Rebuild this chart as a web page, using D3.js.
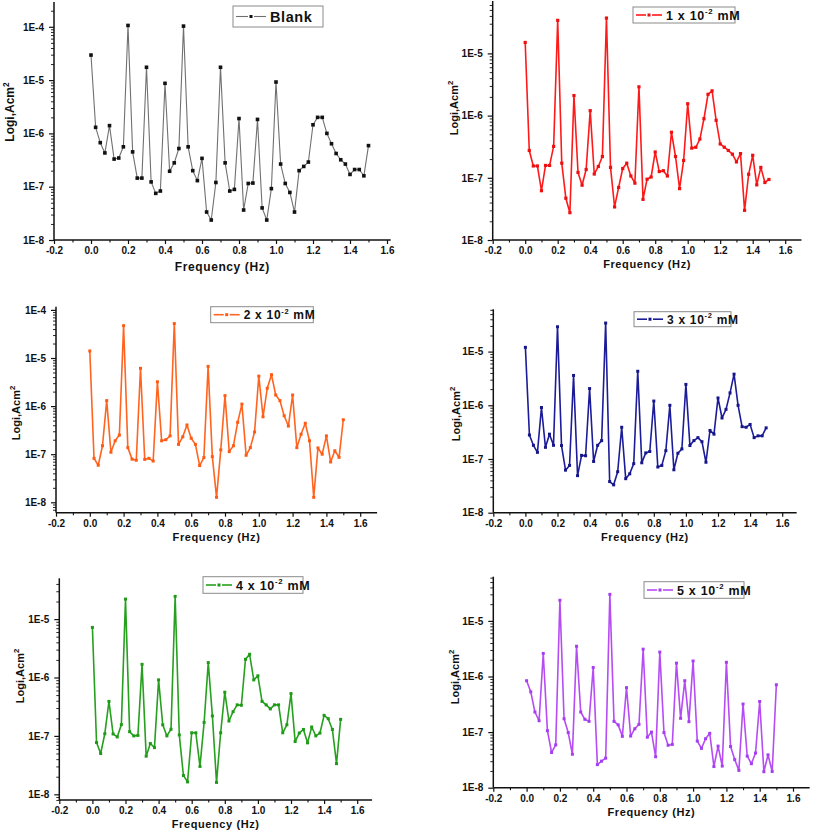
<!DOCTYPE html>
<html><head><meta charset="utf-8">
<script src="https://cdn.jsdelivr.net/npm/d3@7"></script>
<style>
body{margin:0;background:#fff;}
svg{display:block;font-family:"Liberation Sans",Arial,sans-serif;font-weight:bold;}
</style></head>
<body>
<svg id="c" width="813" height="835"></svg>
<script>
// ---------- DATA ----------
const freq = [0,0.025,0.05,0.075,0.1,0.125,0.15,0.175,0.2,0.225,0.25,0.275,0.3,0.325,0.35,0.375,0.4,0.425,0.45,0.475,0.5,0.525,0.55,0.575,0.6,0.625,0.65,0.675,0.7,0.725,0.75,0.775,0.8,0.825,0.85,0.875,0.9,0.925,0.95,0.975,1.0,1.025,1.05,1.075,1.1,1.125,1.15,1.175,1.2,1.225,1.25,1.275,1.3,1.325,1.35,1.375,1.4,1.425,1.45,1.475,1.5];

const blank = [2.95e-5,1.3e-6,6.7e-7,4.3e-7,1.4e-6,3.3e-7,3.45e-7,5.6e-7,1.06e-4,4.5e-7,1.45e-7,1.45e-7,1.74e-5,1.23e-7,7.5e-8,8.3e-8,8.7e-6,1.95e-7,2.8e-7,5.2e-7,1.03e-4,5.6e-7,2.0e-7,1.3e-7,3.4e-7,3.35e-8,2.37e-8,1.2e-7,1.74e-5,2.8e-7,8.3e-8,8.9e-8,1.9e-6,3.65e-8,1.15e-7,1.17e-7,1.83e-6,4.0e-8,2.37e-8,9.2e-8,9.2e-6,2.66e-7,1.15e-7,7.8e-8,3.35e-8,2.0e-7,2.4e-7,2.9e-7,1.45e-6,2.0e-6,2.0e-6,1.0e-6,6.4e-7,4.2e-7,3.2e-7,2.66e-7,1.7e-7,2.1e-7,2.1e-7,1.6e-7,5.9e-7];

const conc1 = [1.5e-5,2.75e-7,1.55e-7,1.55e-7,6.2e-8,1.58e-7,1.58e-7,3.2e-7,3.4e-5,1.72e-7,4.7e-8,2.75e-8,2.1e-6,1.22e-7,7.6e-8,1.36e-7,1.2e-6,1.15e-7,1.52e-7,2.2e-7,3.7e-5,1.47e-7,3.4e-8,7.0e-8,1.41e-7,1.72e-7,1.07e-7,8.2e-8,2.9e-6,4.5e-8,9.5e-8,1.03e-7,2.6e-7,1.26e-7,1.3e-7,1.07e-7,5.4e-7,2.2e-7,6.7e-8,1.9e-7,1.55e-6,3.0e-7,3.1e-7,4.2e-7,8.9e-7,2.2e-6,2.5e-6,8.4e-7,3.5e-7,3.1e-7,2.75e-7,2.4e-7,1.8e-7,2.45e-7,3.0e-8,1.14e-7,2.3e-7,7.7e-8,1.47e-7,8.4e-8,9.4e-8];

const conc2 = [1.4e-5,8.2e-8,5.9e-8,1.5e-7,1.3e-6,1.1e-7,1.9e-7,2.5e-7,4.7e-5,1.37e-7,7.9e-8,7.5e-8,6.1e-6,7.8e-8,8.2e-8,7.2e-8,3.2e-6,1.9e-7,2.0e-7,2.4e-7,5.2e-5,1.6e-7,2.3e-7,4.05e-7,2.15e-7,1.6e-7,5.8e-8,8.5e-8,6.7e-6,8.9e-8,1.27e-8,1.23e-7,1.65e-6,1.13e-7,1.5e-7,4.6e-7,1.1e-6,9.5e-8,1.37e-7,2.9e-7,4.2e-6,6.0e-7,2.35e-6,4.5e-6,1.7e-6,1.3e-6,6.3e-7,3.85e-7,1.7e-6,1.37e-7,2.6e-7,4.4e-7,1.9e-7,1.27e-8,1.35e-7,1.0e-7,2.4e-7,6.9e-8,1.18e-7,8.6e-8,5.2e-7];

const conc3 = [1.2e-5,2.8e-7,1.8e-7,1.33e-7,9.1e-7,1.65e-7,2.9e-7,1.8e-7,2.9e-5,1.78e-7,6.2e-8,7.6e-8,3.6e-6,4.9e-8,1.17e-7,1.15e-7,2.05e-6,9.0e-8,1.8e-7,2.2e-7,3.4e-5,3.8e-8,3.3e-8,5.8e-8,3.9e-7,4.3e-8,5.3e-8,8.2e-8,4.3e-6,8.5e-8,1.3e-7,1.38e-7,1.2e-6,7.1e-8,7.6e-8,1.43e-7,1.0e-6,6.3e-8,1.28e-7,1.54e-7,2.45e-6,1.78e-7,2.2e-7,2.5e-7,2.1e-7,8.7e-8,3.4e-7,2.9e-7,1.37e-6,5.8e-7,8.4e-7,1.7e-6,3.8e-6,1.0e-6,4.0e-7,3.9e-7,4.4e-7,2.5e-7,2.7e-7,2.7e-7,3.8e-7];

const conc4 = [7.2e-6,7.7e-8,5.0e-8,1.09e-7,3.9e-7,1.08e-7,9.6e-8,1.56e-7,2.2e-5,1.18e-7,1.0e-7,1.02e-7,1.68e-6,4.5e-8,7.4e-8,6.3e-8,9.1e-7,1.55e-7,1.0e-7,1.3e-7,2.45e-5,1.04e-7,2.1e-8,1.63e-8,1.13e-7,1.13e-7,3.0e-8,1.7e-7,1.8e-6,2.2e-7,1.6e-8,1.13e-7,5.6e-7,1.8e-7,2.6e-7,3.4e-7,3.35e-7,2.05e-6,2.5e-6,9.1e-7,1.07e-6,3.9e-7,3.4e-7,2.9e-7,3.4e-7,3.4e-7,1.13e-7,1.55e-7,5.3e-7,8.0e-8,1.12e-7,1.29e-7,7.6e-8,1.42e-7,1.0e-7,1.12e-7,2.25e-7,1.97e-7,1.29e-7,3.35e-8,1.92e-7];

const conc5 = [8.4e-7,5.3e-7,2.3e-7,1.6e-7,2.6e-6,1.06e-7,4.3e-8,5.9e-8,2.35e-5,1.74e-7,9.8e-8,4.0e-8,3.5e-6,2.3e-7,1.7e-7,1.56e-7,1.45e-6,2.6e-8,3.0e-8,3.4e-8,3.0e-5,1.56e-7,1.35e-7,8.4e-8,6.3e-7,8.5e-8,1.15e-7,1.38e-7,3.1e-6,8.1e-8,1.0e-7,3.6e-8,2.75e-6,9.8e-8,5.8e-8,6.0e-8,1.74e-6,1.77e-7,8.4e-7,1.54e-7,1.9e-6,6.9e-8,5.1e-8,7.6e-8,9.5e-8,2.4e-8,5.6e-8,2.45e-8,1.8e-6,5.5e-8,3.2e-8,2.05e-8,3.2e-7,3.7e-8,2.7e-8,4.2e-8,3.55e-7,1.94e-8,3.9e-8,1.96e-8,7.1e-7];

const seriesNames = ["Blank","1  x 10","2 x 10","3 x 10","4 x 10","5 x 10"];
const seriesSup = ["", "-2", "-2", "-2", "-2", "-2"];
const seriesUnit = ["", " mM", " mM", " mM", " mM", " mM"];
const seriesValues = [blank, conc1, conc2, conc3, conc4, conc5];
const xTicks = [-0.2,0.0,0.2,0.4,0.6,0.8,1.0,1.2,1.4,1.6];
const xTickLabels = ["-0.2","0.0","0.2","0.4","0.6","0.8","1.0","1.2","1.4","1.6"];
const xMinorTicks = [-0.1,0.1,0.3,0.5,0.7,0.9,1.1,1.3,1.5];
const yTicks1 = [1e-8,1e-7,1e-6,1e-5,1e-4];
const yTicks2 = [1e-8,1e-7,1e-6,1e-5];
const yTickLabels = {"-8":"1E-8","-7":"1E-7","-6":"1E-6","-5":"1E-5","-4":"1E-4"};
const xTitle = "Frequency (Hz)";
const yTitleMain = "Logi,Acm";
const yTitleSup = "2";

// ---------- LAYOUT / STYLE ----------
const panels = [
 {ax:54,   ay:240,   y8:240,   dec:53.3, top:2,     xs:37.0, xmax:1.62, yt:yTicks1, lg:[233,6,90,21],   lfs:14.5, tfs:12, yTitle:[10,112],
  line:"#707070", mark:"#111", lw:1.1, ms:3.6},
 {ax:492.7,ay:240,   y8:240,   dec:62.2, top:1,     xs:32.5, xmax:1.7,  yt:yTicks2, lg:[633,7,102,16],  lfs:12.5, tfs:11, yTitle:[454,108],
  line:"#ff1a1a", mark:"#ee1010", lw:1.6, ms:3.2},
 {ax:56,   ay:512.7, y8:502.3, dec:48.1, top:306.7, xs:33.8, xmax:1.7,  yt:yTicks1, lg:[210.7,306.7,102.6,16], lfs:12, tfs:11, yTitle:[16,413],
  line:"#ff6420", mark:"#ff5a14", lw:1.6, ms:3.0},
 {ax:493.3,ay:512.7, y8:512.7, dec:53.7, top:309.3, xs:32.1, xmax:1.69, yt:yTicks2, lg:[634,311.7,97,15], lfs:12, tfs:11, yTitle:[456,414],
  line:"#1c1c98", mark:"#16168a", lw:1.6, ms:3.0},
 {ax:59.3, ay:800,   y8:794.3, dec:58.4, top:578.3, xs:33.1, xmax:1.69, yt:yTicks2, lg:[203,576.7,100,16.6], lfs:12.5, tfs:11, yTitle:[20,676],
  line:"#26a01e", mark:"#1e9a16", lw:1.6, ms:3.0},
 {ax:493.3,ay:787.7, y8:787.7, dec:55.6, top:576.7, xs:33.3, xmax:1.7,  yt:yTicks2, lg:[644,581.7,100,16.6], lfs:12.5, tfs:11, yTitle:[455,677],
  line:"#b64cf4", mark:"#a63ef0", lw:1.6, ms:3.0}
];

// ---------- DRAW ----------
const svg = d3.select("#c");
const xFmt = v => xTickLabels[xTicks.findIndex(t => Math.abs(t - v) < 1e-9)];
const yFmt = v => yTickLabels[String(Math.round(Math.log10(v)))];

panels.forEach((p, i) => {
  const vals = seriesValues[i];
  const g = svg.append("g");

  // scales
  const xRight = p.ax + (p.xmax + 0.2) / 0.2 * p.xs;
  const x = d3.scaleLinear().domain([-0.2, p.xmax]).range([p.ax, xRight]);
  const yBot = Math.pow(10, -8 - (p.ay - p.y8) / p.dec);
  const yTop = Math.pow(10, -8 + (p.y8 - p.top) / p.dec);
  const y = d3.scaleLog().domain([yBot, yTop]).range([p.ay, p.top]);

  // minor y ticks
  const yMinor = [];
  for (let e = -9; e <= -3; e++) for (let m = 2; m <= 9; m++) {
    const v = m * Math.pow(10, e);
    if (v >= yBot && v <= yTop) yMinor.push(v);
  }

  // x axis
  const xAxis = d3.axisBottom(x).tickValues(xTicks).tickSize(4).tickPadding(3).tickFormat(xFmt);
  const gx = g.append("g").attr("transform", `translate(0,${p.ay})`).call(xAxis);
  gx.select(".domain").attr("stroke", "#111").attr("stroke-width", 1.5).attr("d", `M${p.ax},0H${xRight}`);
  gx.selectAll(".tick line").attr("stroke", "#111").attr("stroke-width", 1.2);
  gx.selectAll(".tick text").attr("fill", "#111").style("font-size", "10px").style("font-weight", "bold")
    .style("font-family", "Liberation Sans, Arial, sans-serif");
  const gxm = g.append("g").attr("transform", `translate(0,${p.ay})`)
    .call(d3.axisBottom(x).tickValues(xMinorTicks).tickSize(2.5).tickFormat(""));
  gxm.select(".domain").remove();
  gxm.selectAll(".tick line").attr("stroke", "#111").attr("stroke-width", 1.1);

  // y axis
  const yAxis = d3.axisLeft(y).tickValues(p.yt).tickSize(5).tickPadding(5).tickFormat(yFmt);
  const gy = g.append("g").attr("transform", `translate(${p.ax},0)`).call(yAxis);
  gy.select(".domain").attr("stroke", "#111").attr("stroke-width", 1.5).attr("d", `M0,${p.ay}V${p.top}`);
  gy.selectAll(".tick line").attr("stroke", "#111").attr("stroke-width", 1.2);
  gy.selectAll(".tick text").attr("fill", "#111").style("font-size", "10px").style("font-weight", "bold")
    .style("font-family", "Liberation Sans, Arial, sans-serif");
  const gym = g.append("g").attr("transform", `translate(${p.ax},0)`)
    .call(d3.axisLeft(y).tickValues(yMinor).tickSize(3).tickFormat(""));
  gym.select(".domain").remove();
  gym.selectAll(".tick line").attr("stroke", "#111").attr("stroke-width", 0.9);

  // axis titles
  g.append("text")
    .attr("x", (p.ax + xRight) / 2).attr("y", p.ay + 31 * p.tfs / 12)
    .attr("text-anchor", "middle").style("font-size", p.tfs + "px").attr("fill", "#111")
    .style("letter-spacing", "0.6px")
    .text(xTitle);
  const yt = g.append("text")
    .attr("transform", `translate(${p.yTitle[0]},${p.yTitle[1]}) rotate(-90)`)
    .attr("text-anchor", "middle").attr("dy", "0.35em")
    .style("font-size", p.tfs + "px").attr("fill", "#111");
  yt.append("tspan").text(yTitleMain);
  yt.append("tspan").attr("dy", -0.45 * p.tfs).style("font-size", (p.tfs * 0.7) + "px").text(yTitleSup);

  // line
  const pts = freq.map((f, k) => [f, vals[k]]);
  g.append("path").datum(pts)
    .attr("fill", "none").attr("stroke", p.line).attr("stroke-width", p.lw)
    .attr("stroke-linejoin", "round")
    .attr("d", d3.line().x(d => x(d[0])).y(d => y(d[1])));
  g.append("g").selectAll("rect").data(pts).join("rect")
    .attr("x", d => x(d[0]) - p.ms / 2).attr("y", d => y(d[1]) - p.ms / 2)
    .attr("width", p.ms).attr("height", p.ms).attr("fill", p.mark);

  // legend
  const [lx, ly, lw, lh] = p.lg;
  const lg = g.append("g");
  lg.append("rect").attr("x", lx).attr("y", ly).attr("width", lw).attr("height", lh)
    .attr("fill", "#fff").attr("stroke", "#8a8a8a").attr("stroke-width", 1);
  const sx0 = lx + 3, sx1 = lx + (i === 0 ? 33 : 29), sm = (sx0 + sx1) / 2, sy = ly + lh / 2;
  lg.append("line").attr("x1", sx0).attr("x2", sm - 3).attr("y1", sy).attr("y2", sy)
    .attr("stroke", p.line).attr("stroke-width", p.lw);
  lg.append("line").attr("x1", sm + 3).attr("x2", sx1).attr("y1", sy).attr("y2", sy)
    .attr("stroke", p.line).attr("stroke-width", p.lw);
  lg.append("rect").attr("x", sm - 1.5).attr("y", sy - 1.5).attr("width", 3).attr("height", 3).attr("fill", p.mark);
  const lt = lg.append("text").attr("x", sx1 + 4).attr("y", sy).attr("dy", "0.36em")
    .style("font-size", p.lfs + "px").attr("fill", "#111").style("letter-spacing", i === 0 ? "0.6px" : "0.7px");
  lt.append("tspan").text(seriesNames[i]);
  if (seriesSup[i]) {
    const shift = 0.42 * p.lfs;
    lt.append("tspan").attr("dy", -shift).style("font-size", (p.lfs * 0.62) + "px").text(seriesSup[i]);
    lt.append("tspan").attr("dy", shift).text(seriesUnit[i]);
  }
});
</script>
</body></html>
